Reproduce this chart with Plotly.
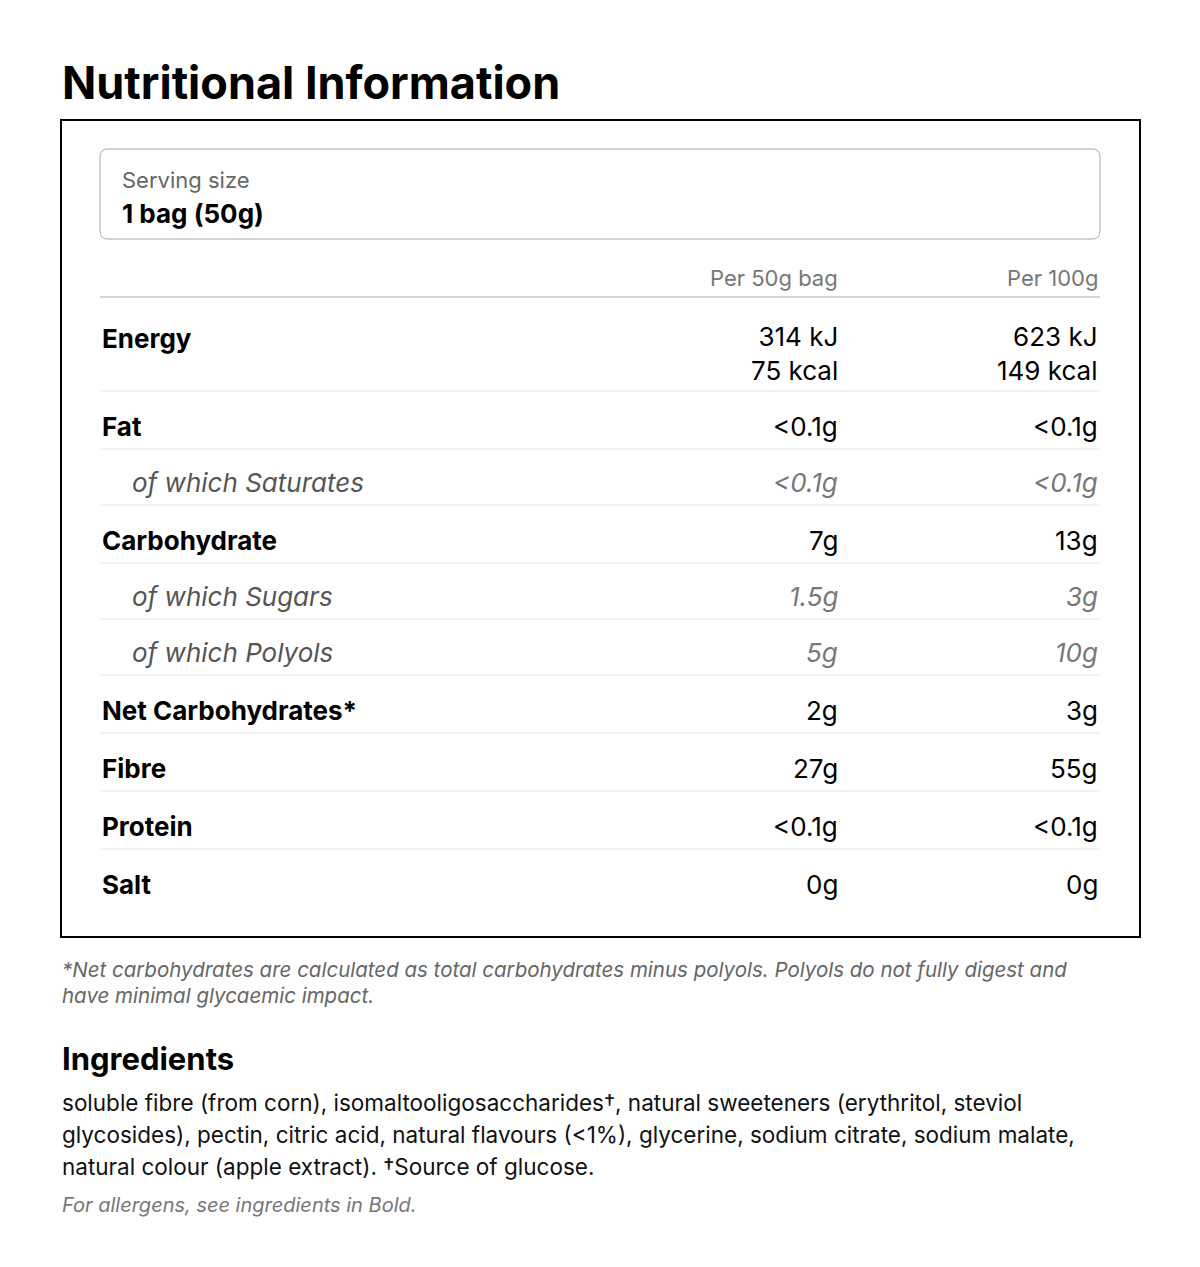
import plotly.graph_objects as go

F = "Inter"
title = "Nutritional Information"
serving_label = "Serving size"
serving_value = "1 bag (50g)"
col_headers = ["Per 50g bag", "Per 100g"]
nutrients = ["Energy", "Fat", "of which Saturates", "Carbohydrate", "of which Sugars",
             "of which Polyols", "Net Carbohydrates*", "Fibre", "Protein", "Salt"]
sub_rows = [False, False, True, False, True, True, False, False, False, False]
per_bag = ["314 kJ<br>75 kcal", "<0.1g", "<0.1g", "7g", "1.5g", "5g", "2g", "27g", "<0.1g", "0g"]
per_100 = ["623 kJ<br>149 kcal", "<0.1g", "<0.1g", "13g", "3g", "10g", "3g", "55g", "<0.1g", "0g"]
footnote_lines = ["*Net carbohydrates are calculated as total carbohydrates minus polyols. Polyols do not fully digest and",
                  "have minimal glycaemic impact."]
ing_title = "Ingredients"
ingredient_lines = ["soluble fibre (from corn), isomaltooligosaccharides†, natural sweeteners (erythritol, steviol",
                    "glycosides), pectin, citric acid, natural flavours (<1%), glycerine, sodium citrate, sodium malate,",
                    "natural colour (apple extract). †Source of glucose."]
allergen = "For allergens, see ingredients in Bold."

fig = go.Figure()
ann, shp = [], []
def T(x, y, t, size, color="#111", xa="left", ya="middle", bold=False, it=False):
    if bold: t = "<b>" + t.replace("<br>", "</b><br><b>") + "</b>"
    if it: t = "<i>" + t.replace("<br>", "</i><br><i>") + "</i>"
    ann.append(dict(x=x, y=y, xref="x", yref="y", text=t, showarrow=False, xanchor=xa, yanchor=ya,
                    align=xa, font=dict(family=F, size=size, color=color)))

T(60, 82, title, 45, "#000", bold=True)
shp.append(dict(type="rect", x0=61, y0=120, x1=1140, y1=937, line=dict(color="#000", width=2)))
shp.append(dict(type="path", path="M 108 149 L 1092 149 Q 1100 149 1100 157 L 1100 231 Q 1100 239 1092 239 L 108 239 Q 100 239 100 231 L 100 157 Q 100 149 108 149 Z",
                line=dict(color="#aaa", width=1)))
T(120, 180, serving_label, 22, "#666")
T(120, 213, serving_value, 26, "#000", bold=True)
T(840, 278, col_headers[0], 22, "#777", xa="right")
T(1100, 278, col_headers[1], 22, "#777", xa="right")
shp.append(dict(type="line", x0=100, x1=1100, y0=297, y1=297, line=dict(color="#aaa", width=1)))

centers = [353, 426, 482, 540, 596, 652, 710, 768, 826, 884]
seps = [391, 449, 505, 563, 619, 675, 733, 791, 849]
for i, n in enumerate(nutrients):
    y = centers[i] if i else 338
    sub = sub_rows[i]
    T(130 if sub else 100, y, n, 26, "#555" if sub else "#000", bold=not sub, it=sub)
    T(840, centers[i], per_bag[i], 26, "#777" if sub else "#000", xa="right", it=sub)
    T(1100, centers[i], per_100[i], 26, "#777" if sub else "#000", xa="right", it=sub)
for s in seps:
    shp.append(dict(type="line", x0=100, x1=1100, y0=s, y1=s, line=dict(color="#e6e6e6", width=1)))

for k, l in enumerate(footnote_lines):
    T(60, 969 + 26 * k, l, 20.5, "#666", it=True)
T(60, 1058, ing_title, 31, "#000", bold=True)
for k, l in enumerate(ingredient_lines):
    T(60, 1102 + 32 * k, l, 22.5, "#111")
T(60, 1205, allergen, 20, "#777", it=True)

fig.update_layout(width=1200, height=1267, margin=dict(l=0, r=0, t=0, b=0),
                  paper_bgcolor="white", plot_bgcolor="white", annotations=ann, shapes=shp,
                  xaxis=dict(range=[8, 1208], visible=False, fixedrange=True),
                  yaxis=dict(range=[1275, 8], visible=False, fixedrange=True), showlegend=False)
fig.write_html("out.html")
